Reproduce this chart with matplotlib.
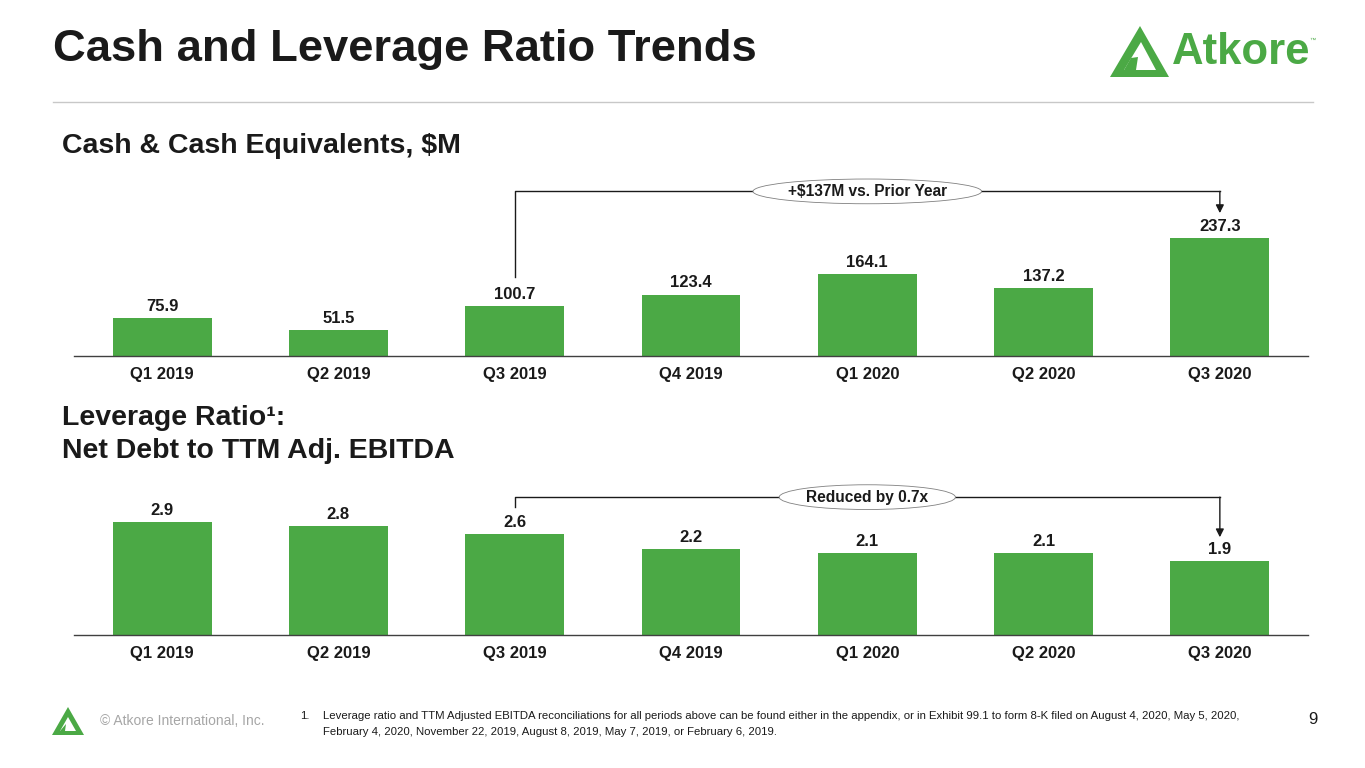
import matplotlib
matplotlib.use('Agg')
import matplotlib.pyplot as plt
from matplotlib.patches import Polygon

plt.rcParams['font.family'] = ['Liberation Sans', 'DejaVu Sans']

# dados
quarters = ['Q1 2019', 'Q2 2019', 'Q3 2019', 'Q4 2019', 'Q1 2020', 'Q2 2020', 'Q3 2020']
cash = [75.9, 51.5, 100.7, 123.4, 164.1, 137.2, 237.3]
leverage = [2.9, 2.8, 2.6, 2.2, 2.1, 2.1, 1.9]
cash_note = '+$137M vs. Prior Year'
lev_note = 'Reduced by 0.7x'

GREEN = '#4BA945'
W, H = 1365, 768

fig = plt.figure(figsize=(13.65, 7.68), dpi=100)
fig.patch.set_facecolor('white')

# camada de fundo em pixels para textos e logo
bg = fig.add_axes([0, 0, 1, 1])
bg.set_xlim(0, W)
bg.set_ylim(H, 0)
bg.axis('off')

bg.text(53, 50, 'Cash and Leverage Ratio Trends', fontsize=32.7, fontweight='bold',
        color='#1a1a1a', va='center', ha='left')
bg.plot([53, 1313], [102, 102], color='#c8c8c8', lw=1)

# logo
bg.add_patch(Polygon([[1110, 77], [1140, 26], [1169, 77]], closed=True, color=GREEN, lw=0))
bg.add_patch(Polygon([[1124, 70], [1141, 42], [1156, 70]], closed=True, color='white', lw=0))
bg.add_patch(Polygon([[1124, 70], [1136, 70], [1138, 57], [1131, 58]], closed=True, color=GREEN, lw=0))
bg.text(1172, 53, 'Atkore', fontsize=31.5, fontweight='bold', color=GREEN, va='center', ha='left')
bg.text(1309, 40, '™', fontsize=4.5, color=GREEN, va='center', ha='left')

bg.text(62, 146, 'Cash & Cash Equivalents, $M', fontsize=20.5, fontweight='bold',
        color='#1a1a1a', va='center', ha='left')
bg.text(62, 418, 'Leverage Ratio¹:', fontsize=20.5, fontweight='bold',
        color='#1a1a1a', va='center', ha='left')
bg.text(62, 451, 'Net Debt to TTM Adj. EBITDA', fontsize=20.5, fontweight='bold',
        color='#1a1a1a', va='center', ha='left')

# rodape
bg.add_patch(Polygon([[52, 735], [68, 707], [84, 735]], closed=True, color=GREEN, lw=0))
bg.add_patch(Polygon([[60, 731], [68, 717], [76, 731]], closed=True, color='white', lw=0))
bg.add_patch(Polygon([[60, 731], [65, 731], [66, 724]], closed=True, color=GREEN, lw=0))
bg.text(100, 721, '© Atkore International, Inc.', fontsize=10, color='#a6a6a6', va='center', ha='left')
bg.text(300, 716, '1.', fontsize=8.2, color='#1a1a1a', va='center', ha='left')
bg.text(323, 716, 'Leverage ratio and TTM Adjusted EBITDA reconciliations for all periods above can be found '
        'either in the appendix, or in Exhibit 99.1 to form 8-K filed on August 4, 2020, May 5, 2020,',
        fontsize=8.2, color='#1a1a1a', va='center', ha='left')
bg.text(323, 732, 'February 4, 2020, November 22, 2019, August 8, 2019, May 7, 2019, or February 6, 2019.',
        fontsize=8.2, color='#1a1a1a', va='center', ha='left')
bg.text(1313, 719, '9', fontsize=12, color='#1a1a1a', va='center', ha='center')


def bar_panel(top_px, base_px, values, ymax, note, start_off, line_y, tip_off):
    ax = fig.add_axes([74 / W, 1 - base_px / H, 1234 / W, (base_px - top_px) / H])
    x = range(len(values))
    ax.bar(x, values, width=0.56, color=GREEN)
    ax.set_xlim(-0.5, len(values) - 0.5)
    ax.set_ylim(0, ymax)
    ax.set_xticks(list(x))
    ax.set_xticklabels(quarters, fontsize=12, fontweight='bold', color='#1a1a1a')
    ax.tick_params(axis='x', length=0, pad=8)
    ax.set_yticks([])
    for s in ['top', 'left', 'right']:
        ax.spines[s].set_visible(False)
    ax.spines['bottom'].set_color('#404040')
    ax.spines['bottom'].set_linewidth(1)
    ax.patch.set_alpha(0)
    for i, v in enumerate(values):
        ax.annotate(f'{v:.1f}', (i, v), xytext=(0, 3), textcoords='offset points',
                    ha='center', va='bottom', fontsize=12, fontweight='bold', color='#1a1a1a')
    # colchete de comparacao
    i0, i1 = 2, len(values) - 1
    ax.plot([i0, i0, i1], [values[i0] + start_off, line_y, line_y], color='#1a1a1a', lw=1, clip_on=False)
    ax.annotate('', xy=(i1, values[i1] + tip_off), xytext=(i1, line_y),
                arrowprops=dict(arrowstyle='-|>', color='#1a1a1a', lw=1, mutation_scale=12,
                                shrinkA=0, shrinkB=0), annotation_clip=False)
    ax.text((i0 + i1) / 2, line_y, note, ha='center', va='center', fontsize=11.2, fontweight='bold',
            color='#1a1a1a', bbox=dict(boxstyle='ellipse,pad=0.08', fc='white', ec='#808080', lw=0.6))
    return ax


bar_panel(170, 356, cash, 374, cash_note, 58, 331, 50)
bar_panel(480, 635, leverage, 3.98, lev_note, 0.68, 3.54, 0.61)

fig.savefig('out.png', dpi=100)
